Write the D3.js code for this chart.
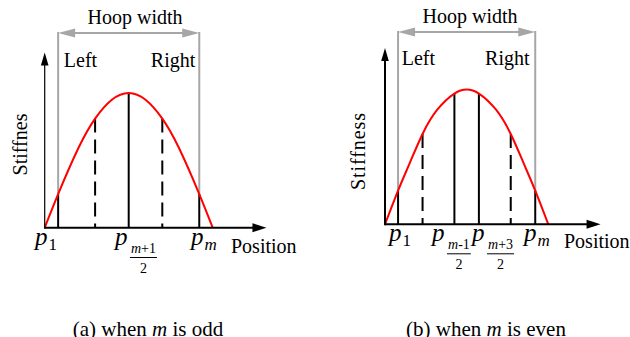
<!DOCTYPE html>
<html>
<head>
<meta charset="utf-8">
<script src="https://cdn.jsdelivr.net/npm/d3@7"></script>
<style>
  body { margin: 0; background: #fff; }
  svg { display: block; }
  svg text { font-family: 'Liberation Serif', 'DejaVu Serif', serif; fill: #000; }
</style>
</head>
<body>
<svg id="chart" width="630" height="337"></svg>
<script>
// Stiffness profile along the hoop (position in % of span, stiffness relative to peak)
const oddCurvePos   = [0, 8, 20, 30, 40, 50, 60, 70, 80, 92, 100];
const oddCurveStiff = [0, 0.25, 0.59, 0.81, 0.95, 1, 0.95, 0.81, 0.59, 0.25, 0];
const evenCurvePos   = [0, 8, 15, 23, 32, 42.5, 50, 57.5, 68, 77, 85, 92, 100];
const evenCurveStiff = [0, 0.25, 0.45, 0.67, 0.85, 0.97, 1, 0.97, 0.85, 0.67, 0.45, 0.25, 0];

// Sampling points p_1 ... p_m and the stiffness at each of them
const oddPoints     = [8, 30, 50, 70, 92];
const oddPointStiff = [0.25, 0.81, 1, 0.81, 0.25];
const evenPoints     = [8, 23, 42.5, 57.5, 77, 92];
const evenPointStiff = [0.25, 0.67, 0.97, 0.97, 0.67, 0.25];

// Point labels "p" with subscript (numerator) and optional denominator, placed at a position
const oddLabelSubs = ["1", "m+1", "m"];
const oddLabelDens = [null, "2", null];
const oddLabelAt   = [-5.2, 42.4, 87.7];
const evenLabelSubs = ["1", "m-1", "m+3", "m"];
const evenLabelDens = [null, "2", "2", null];
const evenLabelAt   = [3.1, 29.4, 53.9, 85.7];

// Texts
const hoopText = "Hoop width";
const leftText = "Left";
const rightText = "Right";
const xTitle = "Position";
const yTitles = ["Stiffnes", "Stiffness"];
const captionParts = [["(a) when ", "m", " is odd"], ["(b) when ", "m", " is even"]];

const FONT = "'Liberation Serif', 'DejaVu Serif', serif";
const svg = d3.select("#chart");
const GRAY = "#a6a6a6";
const RED = "#ff0000";

const panels = [
  {
    curvePos: oddCurvePos, curveStiff: oddCurveStiff,
    points: oddPoints, pointStiff: oddPointStiff,
    subs: oddLabelSubs, dens: oddLabelDens, at: oddLabelAt,
    xRange: [44.7, 212.7], yRange: [227.7, 93],
    xEnd: 132, yEnd: 1.3, yAxisWidth: 1.2,
    hoopY: 33, hoopTextX: 135, hoopTextY: 24,
    sideY: 67, leftPad: 5.7, rightPad: 4,
    yTitleX: 27, yTitleY: 144.5, yTitleLen: null,
    xTitleX: 231, xTitleY: 253,
    pBase: 17.3, capX: 148, caption: captionParts[0], yTitle: yTitles[0]
  },
  {
    curvePos: evenCurvePos, curveStiff: evenCurveStiff,
    points: evenPoints, pointStiff: evenPointStiff,
    subs: evenLabelSubs, dens: evenLabelDens, at: evenLabelAt,
    xRange: [385, 548.3], yRange: [224.3, 89.5],
    xEnd: 132, yEnd: 1.308, yAxisWidth: 2,
    hoopY: 32, hoopTextX: 470, hoopTextY: 23,
    sideY: 65, leftPad: 3.7, rightPad: 5.7,
    yTitleX: 365, yTitleY: 151.5, yTitleLen: 77,
    xTitleX: 564, xTitleY: 248,
    pBase: 17, capX: 486, caption: captionParts[1], yTitle: yTitles[1]
  }
];

function txt(sel) {
  return sel.append("text").attr("font-family", FONT);
}

// Split a subscript into italic letters and upright digits/signs
function addMixed(textSel, str) {
  const chunks = str.match(/[a-z]+|[^a-z]+/g) || [];
  chunks.forEach(c => {
    textSel.append("tspan")
      .attr("font-style", /[a-z]/.test(c) ? "italic" : "normal")
      .text(c);
  });
}

panels.forEach(P => {
  const x = d3.scaleLinear().domain([0, 100]).range(P.xRange);
  const y = d3.scaleLinear().domain([0, 1]).range(P.yRange);
  const g = svg.append("g");
  const y0 = y(0);
  const m = P.points.length;

  // Stiffness curve
  const curveData = P.curvePos.map((p, i) => [p, P.curveStiff[i]]);
  const line = d3.line().x(d => x(d[0])).y(d => y(d[1])).curve(d3.curveNatural);

  // Hoop boundary lines (gray above curve) and hoop width arrow
  const first = 0, last = m - 1;
  [first, last].forEach(i => {
    g.append("line")
      .attr("x1", x(P.points[i])).attr("x2", x(P.points[i]))
      .attr("y1", P.hoopY - 1).attr("y2", y(P.pointStiff[i]))
      .attr("stroke", GRAY).attr("stroke-width", 2);
  });
  const hx1 = x(P.points[first]), hx2 = x(P.points[last]);
  const ah = 17, aw = 4.5;
  g.append("line")
    .attr("x1", hx1 + ah - 2).attr("x2", hx2 - ah + 2)
    .attr("y1", P.hoopY).attr("y2", P.hoopY)
    .attr("stroke", GRAY).attr("stroke-width", 2);
  g.append("path")
    .attr("d", `M${hx1},${P.hoopY}L${hx1 + ah},${P.hoopY - aw}L${hx1 + ah},${P.hoopY + aw}Z`)
    .attr("fill", GRAY);
  g.append("path")
    .attr("d", `M${hx2},${P.hoopY}L${hx2 - ah},${P.hoopY - aw}L${hx2 - ah},${P.hoopY + aw}Z`)
    .attr("fill", GRAY);

  txt(g).attr("x", P.hoopTextX).attr("y", P.hoopTextY)
    .attr("text-anchor", "middle").attr("font-size", 20).text(hoopText);
  txt(g).attr("x", hx1 + P.leftPad).attr("y", P.sideY)
    .attr("font-size", 20).text(leftText);
  txt(g).attr("x", hx2 - P.rightPad).attr("y", P.sideY)
    .attr("text-anchor", "end").attr("font-size", 20).text(rightText);

  // Sampling point lines below the curve
  const mids = m % 2 === 1 ? [(m - 1) / 2] : [m / 2 - 1, m / 2];
  P.points.forEach((p, i) => {
    const ln = g.append("line")
      .attr("x1", x(p)).attr("x2", x(p))
      .attr("y1", y(P.pointStiff[i])).attr("y2", y0)
      .attr("stroke", "#000").attr("stroke-width", 2);
    if (i !== first && i !== last && !mids.includes(i)) {
      ln.attr("stroke-dasharray", "14,7");
    }
  });

  g.append("path").datum(curveData)
    .attr("d", line).attr("fill", "none")
    .attr("stroke", RED).attr("stroke-width", 2);

  // Axes with arrow heads
  const xe = x(P.xEnd), ye = y(P.yEnd);
  g.append("line").attr("x1", x(0)).attr("x2", xe - 12).attr("y1", y0).attr("y2", y0)
    .attr("stroke", "#000").attr("stroke-width", 2);
  g.append("path")
    .attr("d", `M${xe},${y0}L${xe - 14},${y0 - 4.5}L${xe - 14},${y0 + 4.5}Z`).attr("fill", "#000");
  g.append("line").attr("x1", x(0)).attr("x2", x(0)).attr("y1", y0 + 1).attr("y2", ye + 11)
    .attr("stroke", "#000").attr("stroke-width", P.yAxisWidth);
  g.append("path")
    .attr("d", `M${x(0)},${ye}L${x(0) - 3.8},${ye + 13}L${x(0) + 3.8},${ye + 13}Z`).attr("fill", "#000");

  // Axis titles
  const yt = txt(g)
    .attr("transform", `translate(${P.yTitleX},${P.yTitleY}) rotate(-90)`)
    .attr("text-anchor", "middle").attr("font-size", 20).text(P.yTitle);
  if (P.yTitleLen) yt.attr("textLength", P.yTitleLen).attr("lengthAdjust", "spacing");
  txt(g).attr("x", P.xTitleX).attr("y", P.xTitleY)
    .attr("font-size", 20).text(xTitle);

  // Point labels
  const pb = y0 + P.pBase;
  P.subs.forEach((s, i) => {
    const lx = x(P.at[i]);
    txt(g).attr("x", lx - 1).attr("y", pb)
      .attr("font-size", 25).attr("font-style", "italic").text("p");
    if (P.dens[i] === null) {
      const t = txt(g).attr("x", lx + 12.5).attr("y", pb + 5).attr("font-size", 17);
      addMixed(t, s);
    } else {
      const nx = lx + 14;
      const t = txt(g).attr("x", nx + 1).attr("y", pb + 8).attr("font-size", 14);
      addMixed(t, s);
      const w = Math.max(t.node().getBBox().width + 2, 16);
      const barY = pb + 12.5;
      g.append("line").attr("x1", nx).attr("x2", nx + w).attr("y1", barY).attr("y2", barY)
        .attr("stroke", "#000").attr("stroke-width", 1);
      txt(g).attr("x", nx + w / 2).attr("y", barY + 15.5)
        .attr("text-anchor", "middle").attr("font-size", 14).text(P.dens[i]);
    }
  });

  // Caption
  const cap = txt(g).attr("x", P.capX).attr("y", 336)
    .attr("text-anchor", "middle").attr("font-size", 21);
  cap.append("tspan").text(P.caption[0]);
  cap.append("tspan").attr("font-style", "italic").text(P.caption[1]);
  cap.append("tspan").text(P.caption[2]);
});
</script>
</body>
</html>
